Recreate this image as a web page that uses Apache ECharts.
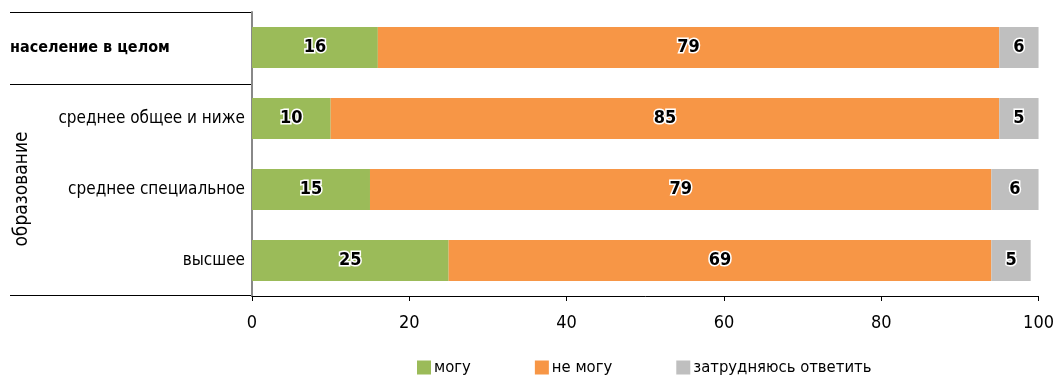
<!DOCTYPE html>
<html>
<head>
<meta charset="utf-8">
<script src="https://cdn.jsdelivr.net/npm/echarts@6/dist/echarts.min.js"></script>
<style>
  html, body { margin: 0; padding: 0; background: #fff; }
  #chart { width: 1057px; height: 378px; }
</style>
</head>
<body>
<div id="chart"></div>
<script>
// Categories (top to bottom) and shares, %
const categories = ['население в целом', 'среднее общее и ниже', 'среднее специальное', 'высшее'];
const canValues = [16, 10, 15, 25];
const cannotValues = [79, 85, 79, 69];
const hardValues = [6, 5, 6, 5];
const seriesNames = ['могу', 'не могу', 'затрудняюсь ответить'];
const xTicks = [0, 20, 40, 60, 80, 100];
const groupTitle = 'образование';

const FONT = '"Liberation Sans Narrow", "DejaVu Sans Condensed", "Open Sans", sans-serif';
const colors = ['#9BBB59', '#F79646', '#BFBFBF'];

const chart = echarts.init(document.getElementById('chart'), null, { renderer: 'canvas' });

const barLabel = {
  show: true,
  position: 'inside',
  color: '#000',
  fontFamily: FONT,
  fontWeight: 'bold',
  fontSize: 18,
  textBorderColor: '#fff',
  textBorderWidth: 3
};

function makeSeries(name, data, color) {
  return {
    name: name,
    type: 'bar',
    stack: 'total',
    data: data,
    barWidth: '58%',
    itemStyle: { color: color },
    label: barLabel,
    emphasis: { disabled: true }
  };
}

chart.setOption({
  animation: false,
  color: colors,
  textStyle: { fontFamily: FONT },
  grid: { left: 252, right: 17, top: 12, bottom: 82, containLabel: false },
  xAxis: {
    type: 'value',
    min: xTicks[0],
    max: xTicks[xTicks.length - 1],
    interval: xTicks[1] - xTicks[0],
    axisLine: { show: true, lineStyle: { color: '#000', width: 1 } },
    axisTick: { show: true, length: 5, lineStyle: { color: '#000' } },
    splitLine: { show: false },
    axisLabel: { color: '#000', fontSize: 18, fontFamily: FONT, margin: 18 }
  },
  yAxis: {
    type: 'category',
    data: categories,
    inverse: true,
    axisLine: { show: true, lineStyle: { color: '#888', width: 2 } },
    axisTick: { show: false },
    axisLabel: {
      color: '#000',
      fontSize: 17,
      fontFamily: FONT,
      margin: 7,
      formatter: function (v, i) {
        return i === 0 ? '{b|' + v + '}' : v;
      },
      rich: {
        b: { fontWeight: 'bold', fontSize: 16, fontFamily: FONT, color: '#000', width: 235, align: 'left' }
      }
    }
  },
  legend: {
    top: 354,
    left: 412,
    itemWidth: 14,
    itemHeight: 14,
    itemGap: 64,
    icon: 'rect',
    textStyle: { color: '#000', fontSize: 16.5, fontFamily: FONT, padding: [0, 0, 0, -2] },
    data: seriesNames
  },
  graphic: [
    { type: 'line', shape: { x1: 10, y1: 12.5, x2: 252, y2: 12.5 }, style: { stroke: '#000', lineWidth: 1 } },
    { type: 'line', shape: { x1: 10, y1: 84.5, x2: 252, y2: 84.5 }, style: { stroke: '#000', lineWidth: 1 } },
    { type: 'line', shape: { x1: 10, y1: 295.5, x2: 252, y2: 295.5 }, style: { stroke: '#000', lineWidth: 1 } },
    {
      type: 'text',
      x: 22, y: 189,
      rotation: Math.PI / 2,
      style: { text: groupTitle, fontSize: 19, fontFamily: FONT, fill: '#000', align: 'center', verticalAlign: 'middle' }
    }
  ],
  series: [
    makeSeries(seriesNames[0], canValues, colors[0]),
    makeSeries(seriesNames[1], cannotValues, colors[1]),
    makeSeries(seriesNames[2], hardValues, colors[2])
  ]
});
</script>
</body>
</html>
